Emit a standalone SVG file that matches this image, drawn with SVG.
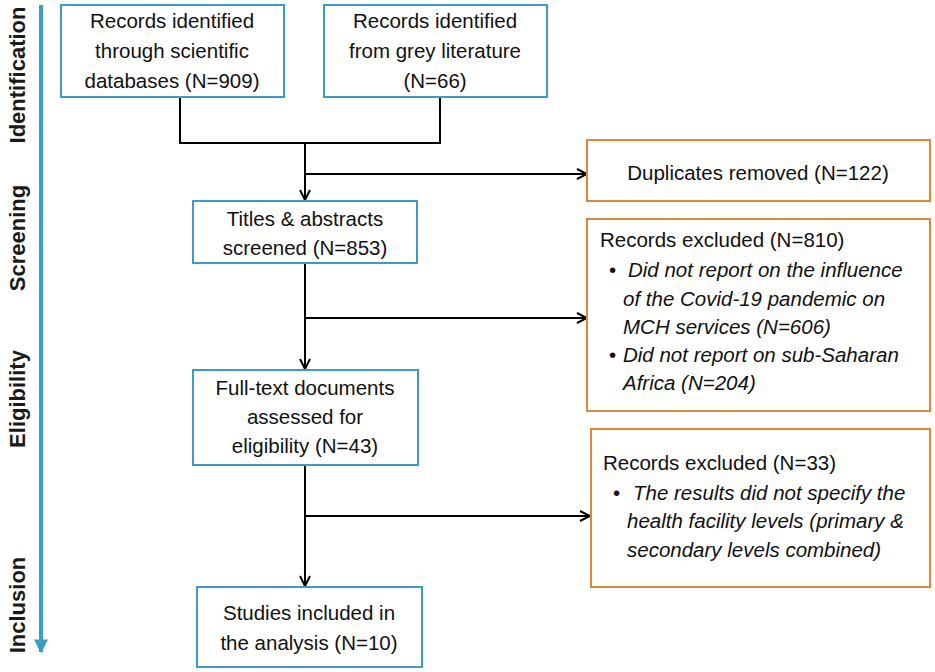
<svg xmlns="http://www.w3.org/2000/svg" width="935" height="672" viewBox="0 0 935 672">
<defs>
<style>
.t{font-family:"Liberation Sans",Arial,sans-serif;font-size:20.5px;fill:#111}
.c{text-anchor:middle}
.i{font-style:italic}
.lab{font-family:"Liberation Sans",Arial,sans-serif;font-size:22px;font-weight:bold;fill:#1a1a1a;text-anchor:middle}
.bb{fill:#fff;stroke:#3d9dc0;stroke-width:2}
.ob{fill:#fff;stroke:#e0873c;stroke-width:2}
.ln{fill:none;stroke:#000;stroke-width:2}
</style>
<marker id="ar" viewBox="0 0 12 12" refX="11" refY="6" markerWidth="12" markerHeight="12" markerUnits="userSpaceOnUse" orient="auto">
<path d="M1,1 L11,6 L1,11" fill="none" stroke="#000" stroke-width="2"/>
</marker>
<marker id="ab" viewBox="0 0 10 10" refX="9" refY="5" markerWidth="14" markerHeight="14" markerUnits="userSpaceOnUse" orient="auto">
<path d="M0,0 L10,5 L0,10 Z" fill="#3d9dc0"/>
</marker>
</defs>
<rect width="935" height="672" fill="#fff"/>
<g id="stages">
<line x1="41" y1="5" x2="41" y2="652" stroke="#3d9dc0" stroke-width="4" marker-end="url(#ab)"/>
<text class="lab" transform="translate(25,75) rotate(-90)">Identification</text>
<text class="lab" transform="translate(25,238) rotate(-90)">Screening</text>
<text class="lab" transform="translate(25,399) rotate(-90)">Eligibility</text>
<text class="lab" transform="translate(25,605) rotate(-90)">Inclusion</text>
</g>
<g id="connectors">
<polyline class="ln" points="180,97 180,143 440,143 440,97"/>
<line class="ln" x1="305" y1="143" x2="305" y2="200" marker-end="url(#ar)"/>
<line class="ln" x1="305" y1="174" x2="587" y2="174" marker-end="url(#ar)"/>
<line class="ln" x1="305" y1="263" x2="305" y2="369" marker-end="url(#ar)"/>
<line class="ln" x1="305" y1="318" x2="587" y2="318" marker-end="url(#ar)"/>
<line class="ln" x1="305" y1="465" x2="305" y2="586" marker-end="url(#ar)"/>
<line class="ln" x1="305" y1="516" x2="590" y2="516" marker-end="url(#ar)"/>
</g>
<g id="n1">
<rect class="bb" x="61" y="5" width="223" height="92"/>
<text class="t c" x="172" y="28">Records identified</text>
<text class="t c" x="172" y="58">through scientific</text>
<text class="t c" x="172" y="88">databases (N=909)</text>
</g>
<g id="n2">
<rect class="bb" x="324" y="5" width="223" height="92"/>
<text class="t c" x="435" y="28">Records identified</text>
<text class="t c" x="435" y="58">from grey literature</text>
<text class="t c" x="435" y="88">(N=66)</text>
</g>
<g id="n3">
<rect class="ob" x="587" y="140" width="343" height="61"/>
<text class="t c" x="758" y="180">Duplicates removed (N=122)</text>
</g>
<g id="n4">
<rect class="bb" x="193" y="201" width="224" height="62"/>
<text class="t c" x="305" y="226">Titles &amp; abstracts</text>
<text class="t c" x="305" y="255">screened (N=853)</text>
</g>
<g id="n5">
<rect class="ob" x="587" y="219" width="343" height="192"/>
<text class="t" x="600" y="247">Records excluded (N=810)</text>
<text class="t" x="609" y="277">•</text>
<text class="t i" x="628" y="277">Did not report on the influence</text>
<text class="t i" x="623" y="306">of the Covid-19 pandemic on</text>
<text class="t i" x="623" y="334">MCH services (N=606)</text>
<text class="t" x="609" y="362">•</text>
<text class="t i" x="623" y="362">Did not report on sub-Saharan</text>
<text class="t i" x="623" y="390">Africa (N=204)</text>
</g>
<g id="n6">
<rect class="bb" x="193" y="370" width="225" height="95"/>
<text class="t c" x="305" y="395">Full-text documents</text>
<text class="t c" x="305" y="424">assessed for</text>
<text class="t c" x="305" y="453">eligibility (N=43)</text>
</g>
<g id="n7">
<rect class="ob" x="591" y="429" width="339" height="158"/>
<text class="t" x="603" y="470">Records excluded (N=33)</text>
<text class="t" x="613" y="500">•</text>
<text class="t i" x="633" y="500">The results did not specify the</text>
<text class="t i" x="627" y="528">health facility levels (primary &amp;</text>
<text class="t i" x="627" y="557">secondary levels combined)</text>
</g>
<g id="n8">
<rect class="bb" x="197" y="587" width="225" height="80"/>
<text class="t c" x="309" y="620">Studies included in</text>
<text class="t c" x="309" y="650">the analysis (N=10)</text>
</g>
</svg>
